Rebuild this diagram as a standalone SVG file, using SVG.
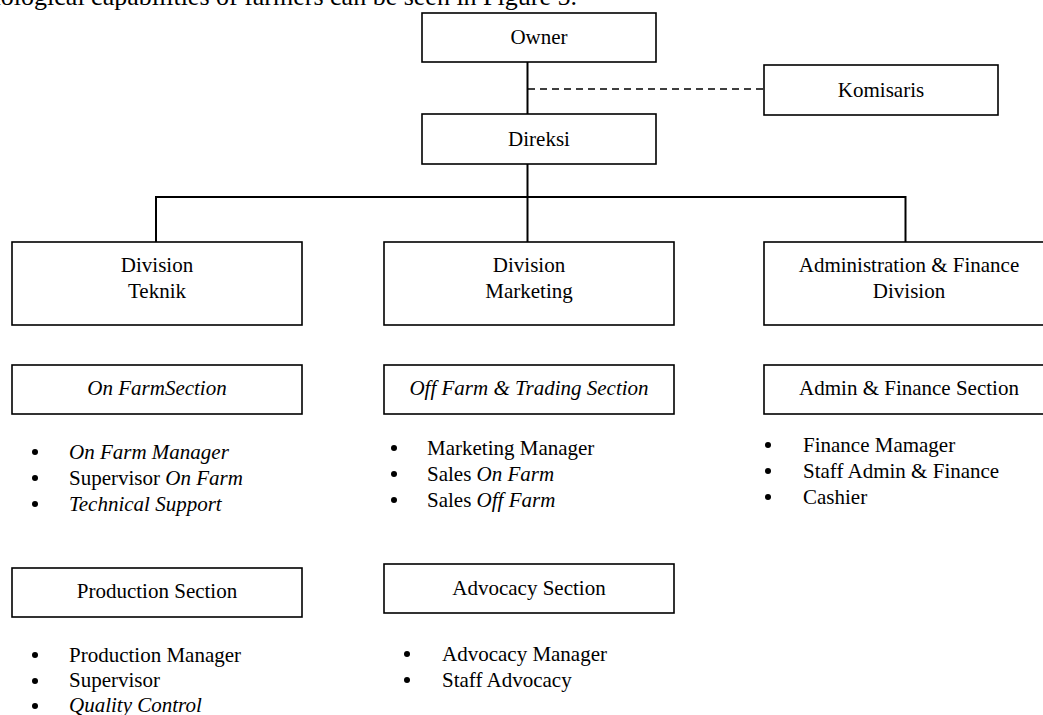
<svg xmlns="http://www.w3.org/2000/svg" width="1043" height="715" viewBox="0 0 1043 715">
<style>
text{font-family:"Liberation Serif","Times New Roman",serif;font-size:21px;fill:#000}
.c{text-anchor:middle}
.i{font-style:italic}
.box{fill:#fff;stroke:#000;stroke-width:1.6}
.ln{fill:none;stroke:#000;stroke-width:2}
.dash{fill:none;stroke:#000;stroke-width:1.6;stroke-dasharray:7,5}
.b{fill:#000}
</style>
<rect width="1043" height="715" fill="#fff"/>
<text x="577" y="5" text-anchor="end" style="font-size:26px">biological capabilities of farmers can be seen in Figure 5.</text>
<g id="connectors">
<line class="ln" x1="527.5" y1="62" x2="527.5" y2="114"/>
<line class="dash" x1="528" y1="89" x2="764" y2="89"/>
<line class="ln" x1="527.5" y1="164" x2="527.5" y2="242"/>
<polyline class="ln" points="156,242 156,197 905.5,197 905.5,242"/>
</g>
<g id="owner"><rect class="box" x="422" y="13" width="234" height="49"/><text class="c" x="539" y="44">Owner</text></g>
<g id="komisaris"><rect class="box" x="764" y="65" width="234" height="50"/><text class="c" x="881" y="97">Komisaris</text></g>
<g id="direksi"><rect class="box" x="422" y="114" width="234" height="50"/><text class="c" x="539" y="146">Direksi</text></g>
<g id="div-teknik"><rect class="box" x="12" y="242" width="290" height="83"/><text class="c" x="157" y="272">Division</text><text class="c" x="157" y="298">Teknik</text></g>
<g id="div-marketing"><rect class="box" x="384" y="242" width="290" height="83"/><text class="c" x="529" y="272">Division</text><text class="c" x="529" y="298">Marketing</text></g>
<g id="div-admin"><rect class="box" x="764" y="242" width="290" height="83"/><text class="c" x="909" y="272">Administration &amp; Finance</text><text class="c" x="909" y="298">Division</text></g>
<g id="sec-onfarm"><rect class="box" x="12" y="365" width="290" height="49"/><text class="c i" x="157" y="395">On FarmSection</text></g>
<g id="sec-offfarm"><rect class="box" x="384" y="365" width="290" height="49"/><text class="c i" x="529" y="395">Off Farm &amp; Trading Section</text></g>
<g id="sec-admin"><rect class="box" x="764" y="365" width="290" height="49"/><text class="c" x="909" y="395">Admin &amp; Finance Section</text></g>
<g id="sec-production"><rect class="box" x="12" y="568" width="290" height="49"/><text class="c" x="157" y="598">Production Section</text></g>
<g id="sec-advocacy"><rect class="box" x="384" y="564" width="290" height="49"/><text class="c" x="529" y="595">Advocacy Section</text></g>
<g id="list-onfarm">
<circle class="b" cx="35" cy="452" r="3"/><text class="i" x="69" y="459">On Farm Manager</text>
<circle class="b" cx="35" cy="478" r="3"/><text x="69" y="485">Supervisor <tspan class="i">On Farm</tspan></text>
<circle class="b" cx="35" cy="504" r="3"/><text class="i" x="69" y="511">Technical Support</text>
</g>
<g id="list-offfarm">
<circle class="b" cx="394" cy="448" r="3"/><text x="427" y="455">Marketing Manager</text>
<circle class="b" cx="394" cy="474" r="3"/><text x="427" y="481">Sales <tspan class="i">On Farm</tspan></text>
<circle class="b" cx="394" cy="500" r="3"/><text x="427" y="507">Sales <tspan class="i">Off Farm</tspan></text>
</g>
<g id="list-admin">
<circle class="b" cx="768" cy="445" r="3"/><text x="803" y="452">Finance Mamager</text>
<circle class="b" cx="768" cy="471" r="3"/><text x="803" y="478">Staff Admin &amp; Finance</text>
<circle class="b" cx="768" cy="497" r="3"/><text x="803" y="504">Cashier</text>
</g>
<g id="list-production">
<circle class="b" cx="35" cy="655" r="3"/><text x="69" y="662">Production Manager</text>
<circle class="b" cx="35" cy="681" r="3"/><text x="69" y="687">Supervisor</text>
<circle class="b" cx="35" cy="706" r="3"/><text class="i" x="69" y="712">Quality Control</text>
</g>
<g id="list-advocacy">
<circle class="b" cx="407" cy="654" r="3"/><text x="442" y="661">Advocacy Manager</text>
<circle class="b" cx="407" cy="680" r="3"/><text x="442" y="687">Staff Advocacy</text>
</g>
</svg>
